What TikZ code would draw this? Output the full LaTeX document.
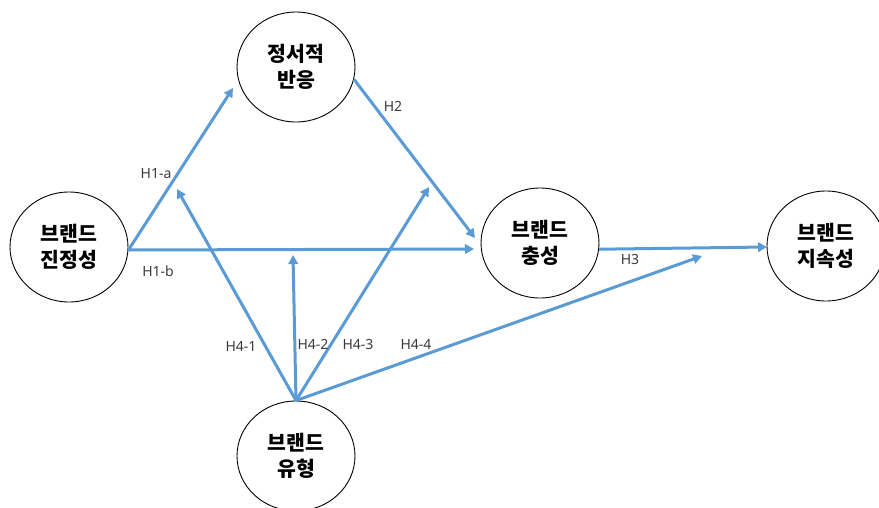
\documentclass[tikz,border=0pt]{standalone}
\usepackage{fontspec}
\setmainfont{Noto Sans}
\newfontfamily\krfont{Noto Sans CJK KR}
\usetikzlibrary{arrows.meta, shapes.geometric}
\definecolor{pathblue}{HTML}{5B9BD5}
\definecolor{labelgray}{HTML}{3A3A3A}

\begin{document}
\begin{tikzpicture}[x=1pt, y=-1pt,
	construct/.style={draw=black, line width=0.9pt, ellipse, minimum width=118pt, minimum height=110pt,
		inner sep=0pt, align=center, font=\krfont\bfseries\fontsize{20.5}{26}\selectfont},
	patharrow/.style={pathblue, line width=3pt, -{Triangle[length=9pt,width=9.5pt]}},
	hyp/.style={font=\fontsize{14}{16}\selectfont, text=labelgray, inner sep=0pt}]
	\useasboundingbox (0,0) rectangle (879,507);
	% constructs
	\node[construct] (auth) at (69,247) {브랜드\\진정성};
	\node[construct] (emo) at (296,67) {정서적\\반응};
	\node[construct] (loyal) at (540,243) {브랜드\\충성};
	\node[construct] (sust) at (826,246) {브랜드\\지속성};
	\node[construct] (type) at (296,456) {브랜드\\유형};
	% arrow ends
	\coordinate (h1a) at (233,88);
	\coordinate (h1b) at (474,249);
	\coordinate (h2) at (475,238);
	\coordinate (h3) at (767,247);
	\coordinate (h41) at (177,189);
	\coordinate (h42) at (293,255);
	\coordinate (h43) at (429,187);
	\coordinate (h44) at (702,256);
	% paths
	\draw[patharrow] (auth.east) ++(0,3) -- (h1a);
	\draw[patharrow] (auth.east) ++(0,3) -- (h1b);
	\draw[patharrow] (emo.-12) -- (h2);
	\draw[patharrow] (loyal.-6) -- (h3);
	\foreach \t in {h41, h42, h43, h44}
	\draw[patharrow] (type.north) -- (\t);
	% hypotheses
	\node[hyp] (lh1a) at (156,174) {H1-a};
	\node[hyp] (lh1b) at (158,271) {H1-b};
	\node[hyp] (lh2) at (393,106) {H2};
	\node[hyp] (lh3) at (630,259) {H3};
	\node[hyp] (lh41) at (241,346) {H4-1};
	\node[hyp] (lh42) at (313,344) {H4-2};
	\node[hyp] (lh43) at (358,344) {H4-3};
	\node[hyp] (lh44) at (416,344) {H4-4};
\end{tikzpicture}
\end{document}
